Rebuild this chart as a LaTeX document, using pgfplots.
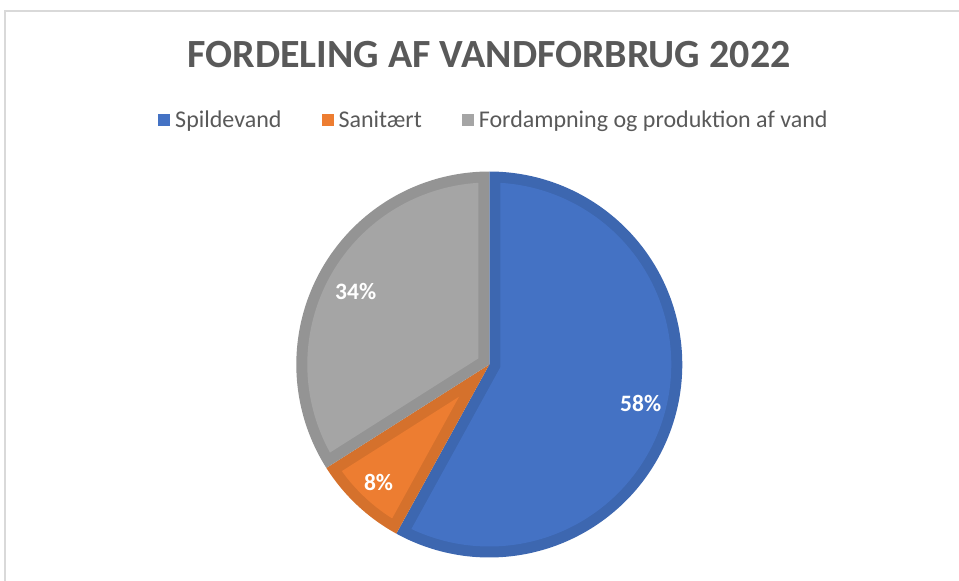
\documentclass[border=0pt]{standalone}
\usepackage{pgfplots}
\pgfplotsset{compat=1.18}
\usepgfplotslibrary{polar}
\usepackage{fontspec}
\setmainfont{Carlito}
\definecolor{cA}{HTML}{4472C4}
\definecolor{cAd}{HTML}{3D67B0}
\definecolor{cB}{HTML}{ED7D31}
\definecolor{cBd}{HTML}{D5712C}
\definecolor{cC}{HTML}{A5A5A5}
\definecolor{cCd}{HTML}{949494}
\definecolor{txt}{HTML}{595959}
\definecolor{frm}{HTML}{D9D9D9}
% values (percent)
\def\vA{58}
\def\vB{8}
\def\vC{34}
\begin{document}
\begin{tikzpicture}[x=1pt,y=1pt]
\useasboundingbox (0,0) rectangle (959,581);
\draw[frm, line width=1.3pt] (5,-30) rectangle (990,570);
\node[font=\fontsize{40}{48}\selectfont\bfseries, text=txt] at (489,526) {FORDELING AF VANDFORBRUG 2022};
% angles
\pgfmathsetmacro{\aA}{90}
\pgfmathsetmacro{\aB}{\aA-\vA*3.6}
\pgfmathsetmacro{\aC}{\aB-\vB*3.6}
\pgfmathsetmacro{\aD}{\aC-\vC*3.6}
\def\R{193}
\def\bw{11}
\pgfmathsetmacro{\ri}{(\R-\bw)/\R}
\pgfmathsetmacro{\dl}{asin(\bw/(\R-\bw))}
\pgfmathsetmacro{\bisA}{(\aA+\aB)/2}
\pgfmathsetmacro{\bisB}{(\aB+\aC)/2}
\pgfmathsetmacro{\bisC}{(\aC+\aD)/2}
\pgfmathsetmacro{\rfoot}{\bw/\R}
\pgfmathsetmacro{\rbisA}{\bw/\R/cos(\bisA)}
\pgfmathsetmacro{\rbisB}{\bw/\R/sin(\vB*1.8)}
\pgfmathsetmacro{\rbisC}{\bw/\R/sin(\vC*1.8)}
\pgfmathsetmacro{\footA}{\aA-90}
\pgfmathsetmacro{\footB}{\aB+90}
\begin{polaraxis}[
  at={(489.3pt,216.5pt)}, anchor=center,
  width=386pt, height=386pt, scale only axis,
  hide axis, ymin=0, ymax=1, clip=false,
  legend columns=3,
  legend image code/.code={\fill[#1, draw=none] (0pt,-6pt) rectangle (12pt,6pt);},
  legend style={at={(0.512,1.1334)}, anchor=center, draw=none, fill=none,
    font=\fontsize{24}{28}\selectfont, text=txt,
    /tikz/every even column/.append style={column sep=38pt},
    /tikz/every odd column/.append style={column sep=3pt},
    nodes={inner sep=2pt}},
]
% outer (border colour)
\addplot[fill=cAd, draw=none, domain=\aB:\aA, samples=150, forget plot] {1} -- (axis cs:0,0) -- cycle;
\addplot[fill=cBd, draw=none, domain=\aC:\aB, samples=30, forget plot] {1} -- (axis cs:0,0) -- cycle;
\addplot[fill=cCd, draw=none, domain=\aD:\aC, samples=90, forget plot] {1} -- (axis cs:0,0) -- cycle;
% inner (fill colour)
\addplot[fill=cA, draw=none, domain=\aB+\dl:\aA-\dl, samples=150, forget plot] {\ri}
  -- (axis cs:\footA,\rfoot) -- (axis cs:\bisA,\rbisA) -- (axis cs:\footB,\rfoot) -- cycle;
\addplot[fill=cB, draw=none, domain=\aC+\dl:\aB-\dl, samples=30, forget plot] {\ri}
  -- (axis cs:\bisB,\rbisB) -- cycle;
\addplot[fill=cC, draw=none, domain=\aD+\dl:\aC-\dl, samples=90, forget plot] {\ri}
  -- (axis cs:\bisC,\rbisC) -- cycle;
% labels
\node[font=\fontsize{23.5}{27}\selectfont\bfseries, text=white] at (axis cs:\bisA,0.81) {\vA\%};
\node[font=\fontsize{23.5}{27}\selectfont\bfseries, text=white] at (axis cs:\bisB,0.838) {\vB\%};
\node[font=\fontsize{23.5}{27}\selectfont\bfseries, text=white] at (axis cs:\bisC,0.79) {\vC\%};
% legend
\addlegendimage{fill=cA}
\addlegendentry{Spildevand}
\addlegendimage{fill=cB}
\addlegendentry{Sanitært}
\addlegendimage{fill=cC}
\addlegendentry{Fordampning og produktion af vand}
\end{polaraxis}
\end{tikzpicture}
\end{document}
